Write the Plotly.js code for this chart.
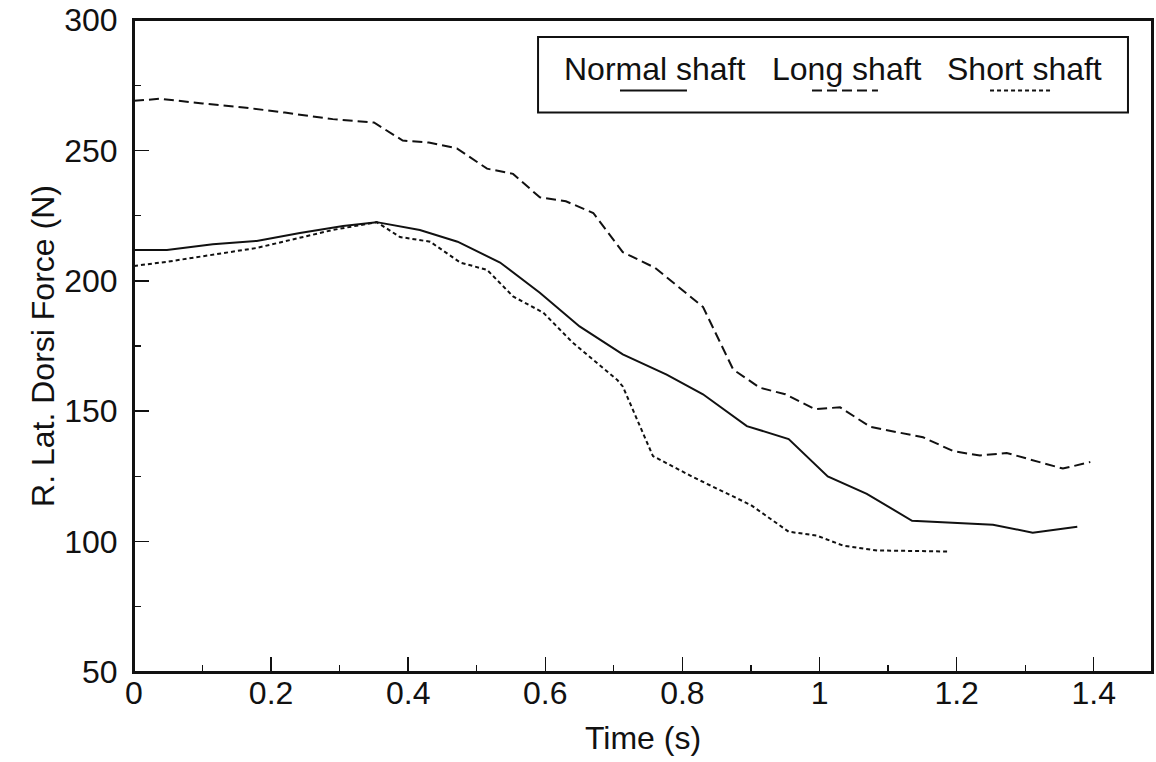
<!DOCTYPE html>
<html>
<head>
<meta charset="utf-8">
<script src="https://cdn.plot.ly/plotly-3.0.1.min.js"></script>
<style>html,body{margin:0;padding:0;background:#fff;}#chart{width:1156px;height:762px;}</style>
</head>
<body>
<div id="chart"></div>
<script>
const normalTime = [0, 0.048, 0.115, 0.179, 0.242, 0.305, 0.354, 0.417, 0.472, 0.534, 0.592, 0.65, 0.713, 0.777, 0.83, 0.894, 0.955, 1.012, 1.069, 1.135, 1.253, 1.311, 1.376];
const normalForce = [211.8, 211.8, 214, 215.3, 218.3, 221, 222.5, 219.5, 215, 207, 195.4, 182.5, 171.8, 164, 156.5, 144.3, 139.3, 125, 118.3, 108, 106.5, 103.4, 105.7];

const longTime = [0, 0.038, 0.1, 0.16, 0.22, 0.29, 0.35, 0.392, 0.43, 0.471, 0.515, 0.553, 0.592, 0.63, 0.67, 0.713, 0.76, 0.83, 0.874, 0.913, 0.95, 0.993, 1.03, 1.074, 1.151, 1.195, 1.234, 1.273, 1.355, 1.395];
const longForce = [269, 269.8, 268, 266.5, 264.5, 262, 260.7, 253.8, 253, 250.8, 243, 241, 232, 230.5, 226, 211, 205, 190, 166, 159, 156.5, 150.8, 151.5, 144, 140, 134.7, 133, 134, 128, 130.5];

const shortTime = [0, 0.048, 0.179, 0.29, 0.354, 0.388, 0.432, 0.476, 0.515, 0.553, 0.597, 0.64, 0.705, 0.713, 0.738, 0.757, 0.815, 0.86, 0.9, 0.955, 0.996, 1.034, 1.084, 1.19];
const shortForce = [205.7, 207.3, 212.6, 219.5, 222.5, 216.8, 215, 207, 204.2, 194, 187.8, 176.3, 162, 159.5, 144.3, 132.8, 124.8, 119, 114, 103.8, 102.3, 98.5, 96.6, 96.2];

const seriesNames = ["Normal shaft", "Long shaft", "Short shaft"];
const seriesDash = ["solid", "10px,5px", "4px,3px"];
const xTickVals = [0, 0.2, 0.4, 0.6, 0.8, 1, 1.2, 1.4];
const xTickText = ["0", "0.2", "0.4", "0.6", "0.8", "1", "1.2", "1.4"];
const yTickVals = [50, 100, 150, 200, 250, 300];

const font = "Liberation Sans, Arial, Helvetica, sans-serif";
const ink = "#111";

const xs = [normalTime, longTime, shortTime];
const ys = [normalForce, longForce, shortForce];
const traces = seriesNames.map((n, i) => ({
  x: xs[i], y: ys[i], name: n, mode: "lines", showlegend: false,
  line: {color: ink, width: 2, dash: seriesDash[i]}
}));

// Legend drawn as in the original: names with the line sample beneath each
const legendTextX = [0.5118, 0.7004, 0.8743];
const legendSampleX = [[0.4774, 0.5432], [0.6660, 0.7308], [0.8409, 0.9028]];
const annotations = seriesNames.map((n, i) => ({
  xref: "paper", yref: "paper", x: legendTextX[i], y: 0.925,
  xanchor: "center", yanchor: "middle", showarrow: false,
  text: n, font: {family: font, size: 32, color: ink}
}));
const shapes = [
  {type: "rect", xref: "paper", yref: "paper", x0: 0, x1: 1, y0: 0, y1: 1,
   line: {color: ink, width: 2}, fillcolor: "rgba(0,0,0,0)"},
  {type: "rect", xref: "paper", yref: "paper", x0: 0.3969, x1: 0.9764, y0: 0.858, y1: 0.974,
   line: {color: ink, width: 2}, fillcolor: "rgba(0,0,0,0)"}
].concat(seriesNames.map((n, i) => ({
  type: "line", xref: "paper", yref: "paper",
  x0: legendSampleX[i][0], x1: legendSampleX[i][1], y0: 0.892, y1: 0.892,
  line: {color: ink, width: 2, dash: seriesDash[i]}
})));

const layout = {
  width: 1156, height: 762,
  margin: {l: 134, r: 4, t: 20, b: 90},
  paper_bgcolor: "#fff", plot_bgcolor: "#fff",
  font: {family: font, color: ink, size: 32},
  showlegend: false,
  annotations: annotations,
  shapes: shapes,
  xaxis: {
    range: [0, 1.485],
    tickvals: xTickVals, ticktext: xTickText,
    ticks: "inside", ticklen: 15, tickwidth: 1.5, tickcolor: ink,
    minor: {dtick: 0.1, ticks: "inside", ticklen: 7, tickwidth: 1.2, tickcolor: ink},
    showgrid: false, zeroline: false,
    showline: true, linecolor: ink, linewidth: 2, mirror: true,
    tickfont: {family: font, size: 32, color: ink},
    ticklabelstandoff: -8,
    title: {text: "Time (s)", font: {family: font, size: 32, color: ink}, standoff: 16}
  },
  yaxis: {
    range: [50, 300.01],
    tickvals: yTickVals,
    ticks: "inside", ticklen: 15, tickwidth: 1.5, tickcolor: ink,
    minor: {dtick: 25, ticks: "inside", ticklen: 7, tickwidth: 1.2, tickcolor: ink},
    showgrid: false, zeroline: false,
    showline: true, linecolor: ink, linewidth: 2, mirror: true,
    tickfont: {family: font, size: 32, color: ink},
    ticklabelstandoff: 8,
    ticklabeloverflow: "allow",
    title: {text: "R. Lat. Dorsi Force (N)", font: {family: font, size: 32, color: ink}, standoff: 0}
  }
};

Plotly.newPlot("chart", traces, layout, {displayModeBar: false, staticPlot: true});
</script>
</body>
</html>
